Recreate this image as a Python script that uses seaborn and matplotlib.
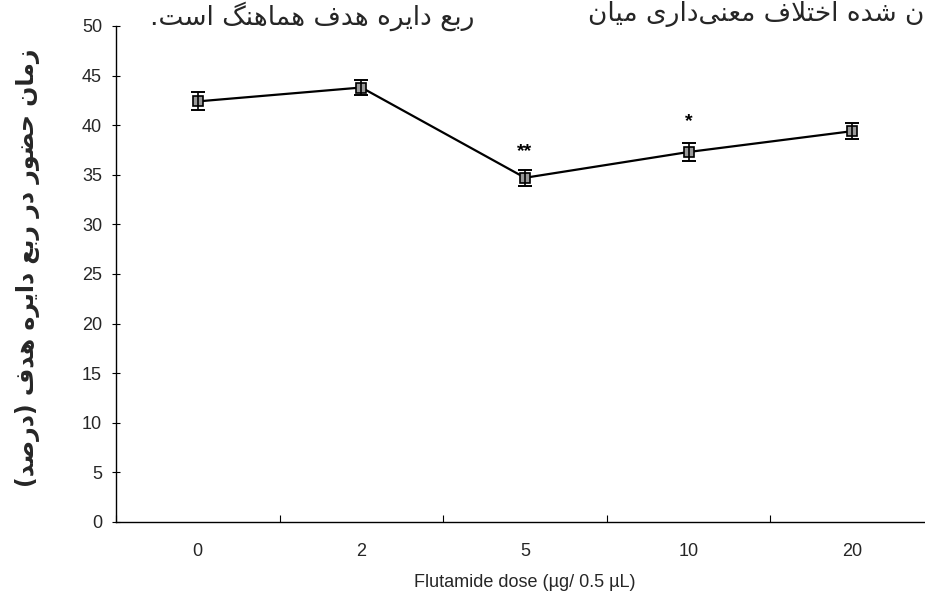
import matplotlib
matplotlib.use("Agg")
import matplotlib.pyplot as plt
import seaborn as sns
import numpy as np
import pandas as pd

# ---------------- data ----------------
doses = ["0", "2", "5", "10", "20"]
time_pct = [42.4, 43.8, 34.7, 37.3, 39.4]
sem = [0.9, 0.8, 0.8, 0.9, 0.8]
stars = ["", "", "**", "*", ""]
star_y = [None, None, 37.3, 40.4, None]
yticks = [0, 5, 10, 15, 20, 25, 30, 35, 40, 45, 50]
xlabel = "Flutamide dose (µg/ 0.5 µL)"
ylabel_fa = "زمان حضور در ربع دایره هدف (درصد)"
top_left_fa = "ربع دایره هدف هماهنگ است."
top_right_fa = "ن شده اختلاف معنی‌داری میان"

# ---------------- Persian shaping (presentation forms + visual order) ----
FORMS = {
    "ا": ("\uFE8D", "\uFE8E", None, None),
    "ب": ("\uFE8F", "\uFE90", "\uFE91", "\uFE92"),
    "ت": ("\uFE95", "\uFE96", "\uFE97", "\uFE98"),
    "ح": ("\uFEA1", "\uFEA2", "\uFEA3", "\uFEA4"),
    "خ": ("\uFEA5", "\uFEA6", "\uFEA7", "\uFEA8"),
    "د": ("\uFEA9", "\uFEAA", None, None),
    "ذ": ("\uFEAB", "\uFEAC", None, None),
    "ر": ("\uFEAD", "\uFEAE", None, None),
    "ز": ("\uFEAF", "\uFEB0", None, None),
    "س": ("\uFEB1", "\uFEB2", "\uFEB3", "\uFEB4"),
    "ش": ("\uFEB5", "\uFEB6", "\uFEB7", "\uFEB8"),
    "ص": ("\uFEB9", "\uFEBA", "\uFEBB", "\uFEBC"),
    "ض": ("\uFEBD", "\uFEBE", "\uFEBF", "\uFEC0"),
    "ع": ("\uFEC9", "\uFECA", "\uFECB", "\uFECC"),
    "ف": ("\uFED1", "\uFED2", "\uFED3", "\uFED4"),
    "ل": ("\uFEDD", "\uFEDE", "\uFEDF", "\uFEE0"),
    "م": ("\uFEE1", "\uFEE2", "\uFEE3", "\uFEE4"),
    "ن": ("\uFEE5", "\uFEE6", "\uFEE7", "\uFEE8"),
    "ه": ("\uFEE9", "\uFEEA", "\uFEEB", "\uFEEC"),
    "و": ("\uFEED", "\uFEEE", None, None),
    "ی": ("\uFBFC", "\uFBFD", "\uFBFE", "\uFBFF"),
    "ک": ("\uFB8E", "\uFB8F", "\uFB90", "\uFB91"),
    "گ": ("\uFB92", "\uFB93", "\uFB94", "\uFB95"),
}


def dual(c):
    return c in FORMS and FORMS[c][2] is not None


def joins(c):
    return c in FORMS


def shape(text):
    chars = list(text)
    out = []
    i = 0
    n = len(chars)
    while i < n:
        c = chars[i]
        if c not in FORMS:
            if c != "\u200c":
                out.append(c)
            i += 1
            continue
        prev = chars[i - 1] if i > 0 else None
        con_prev = prev is not None and dual(prev)
        # lam-alef ligature
        if c == "ل" and i + 1 < n and chars[i + 1] == "ا":
            out.append("\uFEFC" if con_prev else "\uFEFB")
            i += 2
            continue
        nxt = chars[i + 1] if i + 1 < n else None
        con_next = dual(c) and nxt is not None and joins(nxt)
        f = FORMS[c]
        if con_prev and con_next:
            out.append(f[3])
        elif con_prev:
            out.append(f[1])
        elif con_next:
            out.append(f[2])
        else:
            out.append(f[0])
        i += 1
    vis = "".join(reversed(out))
    return vis.translate(str.maketrans("()", ")("))


# ---------------- plot ----------------
sns.set_theme(style="white")
plt.rcParams["font.family"] = ["Liberation Sans", "DejaVu Sans"]

fig = plt.figure(figsize=(9.25, 6), dpi=100)
ax = fig.add_axes([116 / 925, 78 / 600, 818 / 925, 496 / 600])

df = pd.DataFrame({"pos": np.arange(len(doses)), "val": time_pct})
sns.lineplot(data=df, x="pos", y="val", ax=ax, color="black", linewidth=1.6,
             marker="s", markersize=7, markerfacecolor="#9a9a9a",
             markeredgecolor="black", markeredgewidth=1.2)
ax.errorbar(df["pos"], df["val"], yerr=sem, fmt="none", ecolor="black",
            elinewidth=1.2, capsize=5, capthick=1.4)

for p, s, y in zip(df["pos"], stars, star_y):
    if s:
        ax.text(p, y, s, ha="center", va="center", fontsize=14,
                fontweight="bold", color="black")

ax.set_xlim(-0.5, len(doses) - 0.5)
ax.set_ylim(0, 50)
ax.set_yticks(yticks)
ax.set_yticklabels([str(t) for t in yticks], fontsize=13)
ax.set_xticks(np.arange(len(doses)))
ax.set_xticklabels(doses, fontsize=13)
ax.tick_params(axis="x", length=0, pad=15)
ax.set_xticks(np.arange(len(doses) + 1) - 0.5, minor=True)
ax.tick_params(axis="x", which="minor", length=5, direction="in", width=0.8,
               bottom=True, color="black")
ax.tick_params(axis="y", length=6, direction="inout", width=0.8, left=True,
               color="black", pad=7)

for side in ["top", "right"]:
    ax.spines[side].set_visible(False)
for side in ["left", "bottom"]:
    ax.spines[side].set_color("black")
    ax.spines[side].set_linewidth(1.0)

ax.set_xlabel(xlabel, fontsize=13, labelpad=10)
ax.set_ylabel("")

fig.text(28 / 925, 1 - 268 / 600, shape(ylabel_fa), rotation=90,
         ha="center", va="center", fontsize=17, fontweight="bold",
         family=["DejaVu Sans"])
fig.text(150 / 925, 1 - 1 / 600, shape(top_left_fa), ha="left",
         va="top", fontsize=19, family=["DejaVu Sans"])
fig.text(924 / 925, 1 - 1 / 600, shape(top_right_fa), ha="right",
         va="top", fontsize=19, family=["DejaVu Sans"])

fig.savefig("out.png", dpi=100, facecolor="white")
